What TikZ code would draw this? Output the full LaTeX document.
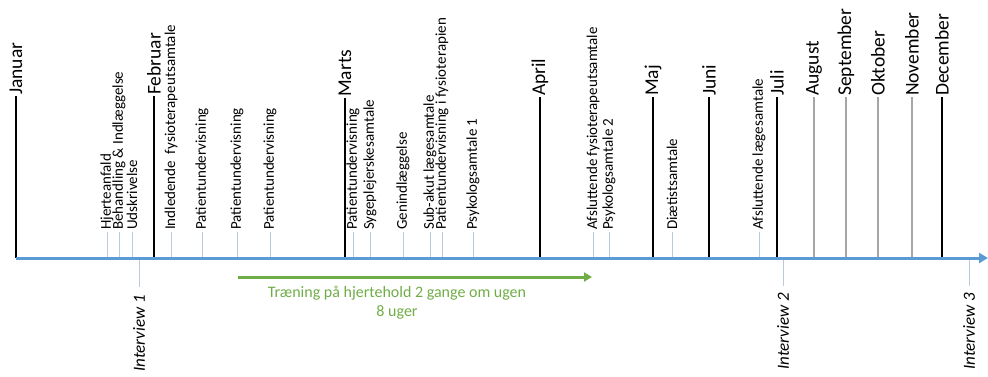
\documentclass[tikz,border=0pt]{standalone}
\usepackage{fontspec}
\setmainfont{Carlito}
\usepackage{tikz}
\usetikzlibrary{arrows.meta}
\usetikzlibrary{positioning}
\definecolor{axisblue}{HTML}{5B9BD5}
\definecolor{traingreen}{HTML}{70AD47}
\definecolor{tickgray}{HTML}{BCCBDA}
\definecolor{monthgray}{HTML}{A6A6A6}

\begin{document}
\begin{tikzpicture}[x=1pt,y=-1pt]
\tikzstyle{every node}+=[inner sep=0pt]
\tikzstyle{month}=[rotate=90,anchor=west,inner sep=1pt,font=\fontsize{19.5}{22}\selectfont]
\tikzstyle{event}=[rotate=90,anchor=west,inner sep=2pt,font=\fontsize{15}{17}\selectfont]
\tikzstyle{interview}=[rotate=90,anchor=east,font=\fontsize{17}{19}\selectfont\itshape]
\tikzstyle{bigline}=[black,line width=2pt]
\tikzstyle{thinline}=[monthgray,line width=1.5pt]
\tikzstyle{tick}=[tickgray,line width=1pt]
\useasboundingbox (0,0) rectangle (988,376);
\coordinate (start) at (16,258);
\coordinate (end) at (988,258);
\node[month] (jan) at (16,96) {Januar};
\node[month] (feb) at (154,96) {Februar};
\node[month] (mar) at (345,98) {Marts};
\node[month] (apr) at (540,97) {April};
\node[month] (maj) at (653,97) {Maj};
\node[month] (jun) at (709,97) {Juni};
\node[month] (jul) at (777,97) {Juli};
\node[month] (aug) at (814,97) {August};
\node[month] (sep) at (846,97) {September};
\node[month] (okt) at (878,97) {Oktober};
\node[month] (nov) at (912,97) {November};
\node[month] (dec) at (942,97) {December};
\draw[bigline] (jan.west) -- (jan.west |- start);
\draw[bigline] (feb.west) -- (feb.west |- start);
\draw[bigline] (mar.west) -- (mar.west |- start);
\draw[bigline] (apr.west) -- (apr.west |- start);
\draw[bigline] (maj.west) -- (maj.west |- start);
\draw[bigline] (jun.west) -- (jun.west |- start);
\draw[bigline] (jul.west) -- (jul.west |- start);
\draw[thinline] (aug.west) -- (aug.west |- start);
\draw[thinline] (sep.west) -- (sep.west |- start);
\draw[thinline] (okt.west) -- (okt.west |- start);
\draw[thinline] (nov.west) -- (nov.west |- start);
\draw[bigline] (dec.west) -- (dec.west |- start);
\node[event] (hjerte) at (107,232) {Hjerteanfald};
\node[event] (behand) at (119,232) {Behandling \& Indlæggelse};
\node[event] (udskr) at (132,232) {Udskrivelse};
\node[event] (indl) at (171,232) {Indledende~ fysioterapeutsamtale};
\node[event] (pu1) at (202,232) {Patientundervisning};
\node[event] (pu2) at (237,232) {Patientundervisning};
\node[event] (pu3) at (270,232) {Patientundervisning};
\node[event] (pu4) at (353,232) {Patientundervisning};
\node[event] (sygepl) at (370,232) {Sygeplejerskesamtale};
\node[event] (genindl) at (403,232) {Genindlæggelse};
\node[event] (subakut) at (430,232) {Sub-akut lægesamtale};
\node[event] (pufys) at (442,232) {Patientundervisning i fysioterapien};
\node[event] (psyk1) at (473,232) {Psykologsamtale 1};
\node[event] (afslfys) at (593,232) {Afsluttende fysioterapeutsamtale};
\node[event] (psyk2) at (609,232) {Psykologsamtale 2};
\node[event] (diaet) at (672,232) {Diætistsamtale};
\node[event] (afslaege) at (759,232) {Afsluttende lægesamtale};
\draw[tick] (hjerte.west) -- (hjerte.west |- start);
\draw[tick] (behand.west) -- (behand.west |- start);
\draw[tick] (udskr.west) -- (udskr.west |- start);
\draw[tick] (indl.west) -- (indl.west |- start);
\draw[tick] (pu1.west) -- (pu1.west |- start);
\draw[tick] (pu2.west) -- (pu2.west |- start);
\draw[tick] (pu3.west) -- (pu3.west |- start);
\draw[tick] (pu4.west) -- (pu4.west |- start);
\draw[tick] (sygepl.west) -- (sygepl.west |- start);
\draw[tick] (genindl.west) -- (genindl.west |- start);
\draw[tick] (subakut.west) -- (subakut.west |- start);
\draw[tick] (pufys.west) -- (pufys.west |- start);
\draw[tick] (psyk1.west) -- (psyk1.west |- start);
\draw[tick] (afslfys.west) -- (afslfys.west |- start);
\draw[tick] (psyk2.west) -- (psyk2.west |- start);
\draw[tick] (diaet.west) -- (diaet.west |- start);
\draw[tick] (afslaege.west) -- (afslaege.west |- start);
\node[interview] (int1) at (139,295) {Interview 1};
\node[interview] (int2) at (783,293) {Interview 2};
\node[interview] (int3) at (969,293) {Interview 3};
\draw[tick] ([yshift=8pt]int1.east) -- (int1.east |- start);
\draw[tick] ([yshift=7pt]int2.east) -- (int2.east |- start);
\draw[tick] ([yshift=7pt]int3.east) -- (int3.east |- start);
\draw[axisblue,line width=3pt,-{Triangle[length=9pt,width=10pt]}] (start) -- (end);
\coordinate (trainS) at (238,277);
\coordinate (trainE) at (592,277);
\draw[traingreen,line width=3pt,-{Triangle[length=8pt,width=9pt]}] (trainS) -- (trainE);
\node[text=traingreen,align=center,font=\fontsize{16}{19}\selectfont] (train) at (397,302.5) {Træning på hjertehold 2 gange om ugen\\8 uger};
\end{tikzpicture}
\end{document}
